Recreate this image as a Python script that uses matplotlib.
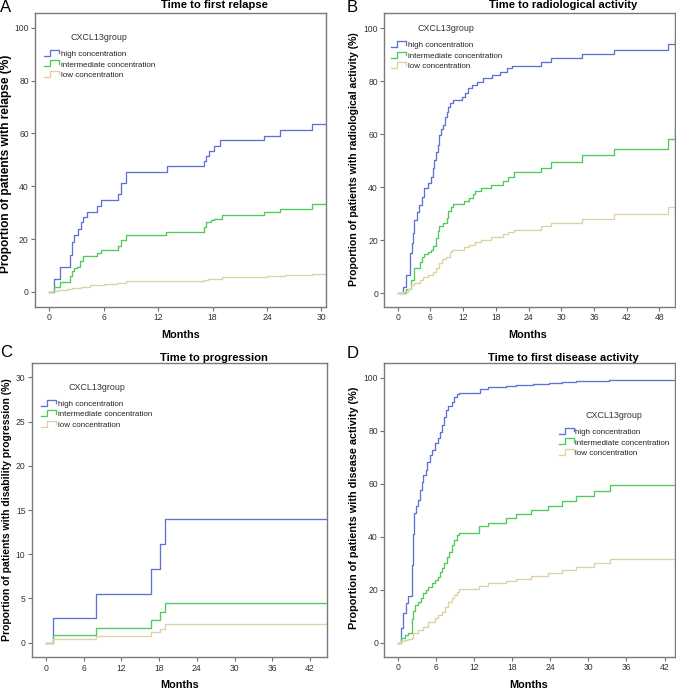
import matplotlib
matplotlib.use("Agg")
import matplotlib.pyplot as plt
from matplotlib.lines import Line2D
from matplotlib.legend_handler import HandlerBase

plt.rcParams['font.family'] = ['Liberation Sans', 'DejaVu Sans']

W, H = 676, 689

# group names / colours
groups = ["high concentration", "intermediate concentration", "low concentration"]
colors = ["#5f72d2", "#4fca5c", "#ddd3a0"]

# A: time to first relapse (months, % with event)
a_high_t = [0, 0.5, 1.2, 2.3, 2.5, 2.75, 3.2, 3.45, 3.75, 4.1, 5.2, 5.7, 7.6, 7.9, 8.5,
            13.0, 17.0, 17.3, 17.6, 18.1, 18.8, 23.7, 25.4, 29.0, 30.5]
a_high_v = [0, 4.8, 9.5, 14.0, 18.8, 21.5, 23.8, 26.5, 28.3, 30.4, 32.5, 34.7, 37.0, 41.2, 45.4,
            47.5, 49.6, 51.5, 53.5, 55.4, 57.4, 59.2, 61.2, 63.4, 63.4]
a_mid_t = [0, 0.5, 1.2, 2.3, 2.5, 2.7, 3.0, 3.4, 3.75, 5.2, 5.75, 7.6, 7.85, 8.5, 12.9,
           17.0, 17.3, 17.8, 18.1, 19.0, 23.7, 25.4, 29.0, 30.5]
a_mid_v = [0, 1.9, 3.9, 5.9, 7.8, 9.0, 9.6, 11.7, 13.5, 14.6, 15.8, 17.5, 19.5, 21.6, 22.7,
           24.7, 26.4, 27.1, 27.8, 29.0, 30.2, 31.5, 33.3, 33.3]
a_low_t = [0, 0.3, 1.0, 2.0, 2.5, 3.5, 4.5, 6.0, 7.5, 8.5, 13.0, 17.0, 17.5, 19.0, 24.0, 26.0, 29.0, 30.5]
a_low_v = [0, 0.4, 0.7, 1.0, 1.5, 2.0, 2.5, 2.9, 3.3, 4.0, 4.2, 4.5, 5.0, 5.5, 6.0, 6.3, 6.7, 6.7]

# B: time to radiological activity
b_high_t = [0, 0.9, 1.5, 2.26, 2.57, 2.87, 3.05, 3.5, 3.97, 4.4, 4.8, 5.6, 6.05, 6.4, 6.66,
            7.0, 7.3, 7.6, 7.9, 8.26, 8.7, 9.0, 9.3, 9.6, 10.1, 11.7, 12.35, 12.96, 13.6, 14.5,
            15.7, 17.2, 18.8, 20.0, 21.0, 26.3, 28.1, 33.8, 39.6, 49.5, 50.8]
b_high_v = [0, 2.4, 6.8, 15.0, 18.9, 22.6, 27.7, 30.8, 33.3, 36.5, 39.6, 41.5, 44.0, 47.2, 50.3,
            53.4, 56.0, 59.7, 62.0, 63.5, 66.6, 68.5, 70.4, 72.0, 72.8, 74.2, 75.7, 77.4, 78.6, 79.6,
            81.1, 82.4, 83.6, 84.9, 85.8, 87.3, 88.7, 90.2, 91.8, 94.0, 95.5]
b_mid_t = [0, 1.5, 2.45, 2.9, 4.0, 4.45, 4.9, 5.5, 6.1, 6.4, 7.0, 7.35, 7.65, 8.25, 9.0,
           9.3, 9.8, 10.1, 12.2, 13.1, 13.8, 14.25, 15.3, 17.1, 19.3, 20.2, 21.4, 26.3, 28.1, 33.8,
           39.6, 49.5, 50.8]
b_mid_v = [0, 1.7, 5.0, 9.6, 11.7, 13.5, 14.8, 15.5, 16.5, 18.0, 21.0, 23.6, 25.5, 26.7, 28.5,
           31.0, 32.6, 33.5, 34.8, 35.8, 37.5, 38.5, 39.6, 41.0, 42.5, 44.0, 45.6, 47.4, 49.5, 52.0,
           54.5, 58.4, 62.0]
b_low_t = [0, 0.9, 1.85, 2.45, 3.05, 4.0, 4.7, 5.5, 6.4, 7.0, 7.65, 8.1, 8.9, 9.5, 9.9,
           12.2, 13.1, 14.1, 15.3, 17.1, 19.3, 20.2, 21.4, 26.3, 28.1, 33.8, 39.6, 49.5, 50.8]
b_low_v = [0, 0.6, 1.5, 3.0, 4.0, 5.0, 6.0, 7.0, 8.0, 9.5, 11.5, 12.8, 13.5, 15.5, 16.5,
           17.3, 18.2, 19.5, 20.2, 21.3, 22.2, 23.0, 24.0, 25.3, 26.5, 28.2, 30.0, 32.6, 32.6]

# C: time to progression
c_t = [0, 1.17, 7.95, 16.7, 18.2, 19.0, 44.65]
c_high_v = [0, 2.8, 5.5, 8.3, 11.2, 14.0, 14.0]
c_mid_v = [0, 0.85, 1.7, 2.6, 3.5, 4.5, 4.5]
c_low_v = [0, 0.45, 0.8, 1.2, 1.6, 2.1, 2.1]

# D: time to first disease activity
d_high_t = [0, 0.43, 0.8, 1.17, 1.58, 2.16, 2.37, 2.55, 2.8, 3.16, 3.4, 3.7, 3.95, 4.3, 4.6,
            5.0, 5.4, 5.8, 6.2, 6.6, 6.85, 7.27, 7.6, 7.9, 8.4, 8.85, 9.2, 9.6, 12.9, 14.1,
            17.0, 18.6, 21.2, 23.8, 25.9, 28.0, 30.2, 33.3, 43.7]
d_high_v = [0, 5.6, 11.1, 14.9, 17.8, 29.5, 41.0, 49.0, 51.5, 53.8, 57.6, 60.8, 63.3, 65.2, 68.3,
            70.8, 72.7, 75.2, 77.1, 79.6, 82.2, 85.3, 87.8, 89.3, 90.9, 92.8, 93.8, 94.4, 95.6, 96.4,
            96.9, 97.3, 97.8, 98.1, 98.4, 98.7, 98.9, 99.2, 99.2]
d_mid_t = [0, 0.5, 1.06, 1.58, 2.2, 2.4, 2.7, 3.16, 3.6, 3.95, 4.3, 4.7, 5.27, 5.8, 6.2,
           6.6, 6.95, 7.27, 7.65, 8.0, 8.4, 8.85, 9.2, 9.6, 12.7, 14.1, 17.0, 18.6, 20.9, 23.6,
           25.9, 28.0, 30.9, 33.4, 43.7]
d_mid_v = [0, 1.7, 2.9, 3.8, 9.0, 12.0, 14.2, 15.5, 16.7, 18.6, 19.9, 21.1, 22.4, 23.7, 24.9,
           26.8, 28.1, 30.0, 32.5, 34.3, 36.9, 38.8, 40.6, 41.3, 44.0, 45.3, 47.0, 48.5, 50.0, 51.7,
           53.4, 55.2, 57.3, 59.6, 59.6]
d_low_t = [0, 0.4, 0.95, 1.5, 2.16, 2.4, 3.16, 3.95, 4.7, 5.8, 6.3, 6.95, 7.4, 7.9, 8.4,
           8.85, 9.2, 9.6, 12.8, 14.1, 17.0, 18.6, 20.9, 23.6, 25.9, 28.0, 30.9, 33.4, 43.7]
d_low_v = [0, 0.5, 1.0, 1.3, 1.8, 3.8, 4.8, 6.0, 7.9, 9.2, 10.4, 11.7, 13.6, 15.5, 16.7,
           18.0, 19.2, 20.1, 21.5, 22.5, 23.3, 24.2, 25.2, 26.3, 27.5, 28.7, 30.0, 31.5, 31.5]


class StepHandler(HandlerBase):
    # SPSS-like little step drawn as legend key
    def create_artists(self, legend, orig_handle, xdescent, ydescent, width, height, fontsize, trans):
        x0, y0 = -xdescent, -ydescent
        xs = [x0, x0 + 0.4 * width, x0 + 0.4 * width, x0 + width, x0 + width]
        ys = [y0 + 0.1 * height, y0 + 0.1 * height, y0 + 1.0 * height, y0 + 1.0 * height, y0 + 0.5 * height]
        ln = Line2D(xs, ys, color=orig_handle.get_color(), lw=orig_handle.get_linewidth(), transform=trans)
        return [ln]


def px_axes(l, t, r, b):
    return [l / W, 1 - b / H, (r - l) / W, (b - t) / H]


fig = plt.figure(figsize=(W / 100, H / 100), dpi=100)

panels = [
    dict(box=(35, 13, 326, 307), xlim=(-1.58, 30.5), ylim=(-5.7, 105.6), xt=range(0, 31, 6), yt=range(0, 101, 20),
         series=[(a_high_t, a_high_v), (a_mid_t, a_mid_v), (a_low_t, a_low_v)],
         title="Time to first relapse", tpos=(214, 8.5), letter="A", lpos=(0, 0),
         ylabel="Proportion of patients with relapse (%)", ylpos=(6, 164), ylfs=8.6,
         xlpos=(181, 338), leg=(0.031, 0.932)),
    dict(box=(384.3, 13, 675.3, 307), xlim=(-2.46, 50.9), ylim=(-5.2, 105.8), xt=range(0, 49, 6), yt=range(0, 101, 20),
         series=[(b_high_t, b_high_v), (b_mid_t, b_mid_v), (b_low_t, b_low_v)],
         title="Time to radiological activity", tpos=(563, 8.5), letter="B", lpos=(347, 0),
         ylabel="Proportion of patients with radiological activity (%)", ylpos=(354, 159.5), ylfs=7.6,
         xlpos=(528, 338), leg=(0.023, 0.962)),
    dict(box=(31.7, 363.3, 326.7, 657.3), xlim=(-2.27, 44.65), ylim=(-1.65, 31.6), xt=range(0, 43, 6), yt=range(0, 31, 5),
         series=[(c_t, c_high_v), (c_t, c_mid_v), (c_t, c_low_v)],
         title="Time to progression", tpos=(214, 361), letter="C", lpos=(0, 345),
         ylabel="Proportion of patients with disability progression (%)", ylpos=(7, 510), ylfs=7.5,
         xlpos=(179.5, 688), leg=(0.032, 0.934)),
    dict(box=(384.3, 362.7, 675.3, 656.7), xlim=(-2.2, 43.7), ylim=(-5.3, 105.7), xt=range(0, 43, 6), yt=range(0, 101, 20),
         series=[(d_high_t, d_high_v), (d_mid_t, d_mid_v), (d_low_t, d_low_v)],
         title="Time to first disease activity", tpos=(563, 361), letter="D", lpos=(347, 346),
         ylabel="Proportion of patients with disease activity (%)", ylpos=(354, 507.5), ylfs=7.8,
         xlpos=(528.5, 688), leg=(0.600, 0.836)),
]

for p in panels:
    ax = fig.add_axes(px_axes(*p["box"]))
    lines = []
    for (t, v), c, g in zip(p["series"], colors, groups):
        ln, = ax.step(t, v, where="post", color=c, lw=0.95, label=g)
        lines.append(ln)
    ax.set_xlim(*p["xlim"])
    ax.set_ylim(*p["ylim"])
    ax.set_xticks(list(p["xt"]))
    ax.set_yticks(list(p["yt"]))
    ax.tick_params(length=3, width=0.8, color="#707070", labelsize=6.2, labelcolor="#333333", pad=1.5)
    for s in ax.spines.values():
        s.set_color("#7a7a7a")
        s.set_linewidth(1.0)
    # trailing blank line gives the extra gap under the legend title
    leg = ax.legend(handles=lines, labels=groups, title="CXCL13group\n", loc="upper left",
                    bbox_to_anchor=p["leg"], frameon=False, fontsize=5.8, title_fontsize=6.4,
                    borderpad=0, borderaxespad=0, handlelength=1.9, handleheight=0.9,
                    handletextpad=0.15, labelspacing=0.28,
                    handler_map={Line2D: StepHandler()})
    leg.get_title().set_linespacing(0.55)
    leg.get_title().set_color("#333333")
    for txt in leg.get_texts():
        txt.set_color("#222222")

    fig.text(p["tpos"][0] / W, 1 - p["tpos"][1] / H, p["title"], ha="center", va="baseline",
             fontsize=8.1, fontweight="bold")
    fig.text(p["lpos"][0] / W, 1 - p["lpos"][1] / H, p["letter"], ha="left", va="top", fontsize=12)
    fig.text(p["ylpos"][0] / W, 1 - p["ylpos"][1] / H, p["ylabel"], ha="center", va="center",
             rotation=90, fontsize=p["ylfs"], fontweight="bold")
    fig.text(p["xlpos"][0] / W, 1 - p["xlpos"][1] / H, "Months", ha="center", va="baseline",
             fontsize=7.8, fontweight="bold")

fig.savefig("out.png", dpi=100)
